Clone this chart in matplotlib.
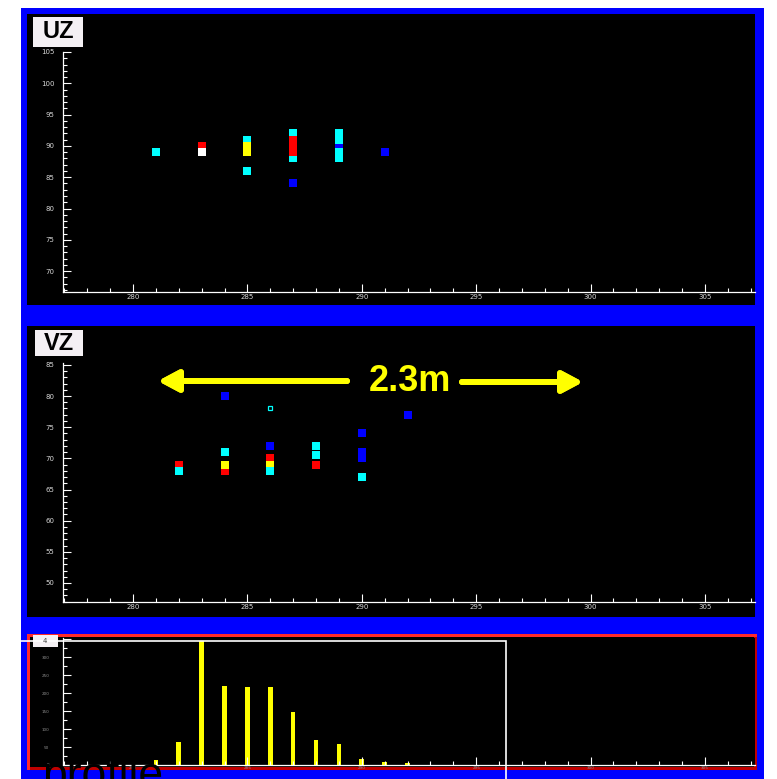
import matplotlib
matplotlib.use('Agg')
import matplotlib.pyplot as plt
from matplotlib.patches import Rectangle
from matplotlib.ticker import MultipleLocator

W, H = 777, 779

# UZ panel points (x, z) per colour
uz_blue_x = [287, 289, 291]
uz_blue_y = [84, 90, 89]
uz_cyan_x = [281, 285, 285, 287, 287, 289, 289, 289, 289]
uz_cyan_y = [89, 91, 86, 92, 88, 92, 91, 89, 88]
uz_red_x = [283, 287, 287, 287]
uz_red_y = [90, 91, 90, 89]
uz_yellow_x = [285, 285]
uz_yellow_y = [90, 89]
uz_white_x = [283]
uz_white_y = [89]

# VZ panel points
vz_blue_x = [284, 286, 290, 290, 290, 292]
vz_blue_y = [80, 72, 74, 71, 70, 77]
vz_red_x = [282, 284, 286, 288]
vz_red_y = [69, 68, 70, 69]
vz_yellow_x = [284, 286]
vz_yellow_y = [69, 69]
vz_cyan_x = [282, 284, 286, 288, 288, 290]
vz_cyan_y = [68, 71, 68, 72, 70.6, 67]
vz_open_x = [286]
vz_open_y = [78]

# profile histogram
hist_x = [281, 282, 283, 284, 285, 286, 287, 288, 289, 290, 291, 292]
hist_counts = [14, 64, 345, 219, 217, 217, 147, 69, 58, 17, 8, 6]

fig = plt.figure(figsize=(W / 100, H / 100), dpi=100, facecolor='white')


def box(x0, y0, x1, y1):
    return [x0 / W, 1 - y1 / H, (x1 - x0) / W, (y1 - y0) / H]


def rect(x0, y0, x1, y1, **kw):
    l, b, w, h = box(x0, y0, x1, y1)
    fig.add_artist(Rectangle((l, b), w, h, transform=fig.transFigure, **kw))


def px(x, y):
    return (x, H - y)


def style(ax, xlim, ylim, ystep, yminor, lsize=5, lcolor='#d8d8d8'):
    ax.set_facecolor('black')
    ax.set_xlim(*xlim)
    ax.set_ylim(*ylim)
    for s in ['top', 'right']:
        ax.spines[s].set_visible(False)
    for s in ['left', 'bottom']:
        ax.spines[s].set_color('white')
        ax.spines[s].set_linewidth(0.9)
    ax.xaxis.set_major_locator(MultipleLocator(5))
    ax.xaxis.set_minor_locator(MultipleLocator(1))
    ax.yaxis.set_major_locator(MultipleLocator(ystep))
    ax.yaxis.set_minor_locator(MultipleLocator(yminor))
    ax.tick_params(which='both', direction='in', colors='white',
                   labelcolor=lcolor, labelsize=lsize, width=0.8)
    ax.tick_params(which='major', length=6)
    ax.tick_params(which='minor', length=3)
    ax.tick_params(axis='x', pad=1.5)
    ax.tick_params(axis='y', pad=6)


# slide background
rect(21, 8, 764, 800, facecolor='#0000ff', edgecolor='none', zorder=-10)
rect(27, 14, 755, 305, facecolor='black', edgecolor='none', zorder=-9)
rect(27, 326, 755, 617, facecolor='black', edgecolor='none', zorder=-9)
rect(27, 634, 757, 770, facecolor='#ff2a2a', edgecolor='none', zorder=-9)
rect(30, 637, 757, 770, facecolor='#c00000', edgecolor='none', zorder=-8)
rect(30, 637, 754, 767, facecolor='black', edgecolor='none', zorder=-7)

xl = (276.94, 307.19)
ms = 5.6

# UZ
ax1 = fig.add_axes(box(63, 52, 755, 292))
style(ax1, xl, (66.67, 105.0), 5, 1)
ax1.plot(uz_blue_x, uz_blue_y, 's', color='#0000ff', ms=ms, mew=0)
ax1.plot(uz_cyan_x, uz_cyan_y, 's', color='#00ffff', ms=ms, mew=0)
ax1.plot(uz_red_x, uz_red_y, 's', color='#ff0000', ms=ms, mew=0)
ax1.plot(uz_yellow_x, uz_yellow_y, 's', color='#ffff00', ms=ms, mew=0)
ax1.plot(uz_white_x, uz_white_y, 's', color='white', ms=ms, mew=0)

# VZ
ax2 = fig.add_axes(box(63, 363, 755, 602))
style(ax2, xl, (46.95, 85.3), 5, 1)
ax2.plot(vz_blue_x, vz_blue_y, 's', color='#0000ff', ms=ms, mew=0)
ax2.plot(vz_red_x, vz_red_y, 's', color='#ff0000', ms=ms, mew=0)
ax2.plot(vz_yellow_x, vz_yellow_y, 's', color='#ffff00', ms=ms, mew=0)
ax2.plot(vz_cyan_x, vz_cyan_y, 's', color='#00ffff', ms=ms, mew=0)
ax2.plot(vz_open_x, vz_open_y, 's', mfc='none', mec='#00ffff', ms=3, mew=0.9)

# profile histogram
ax3 = fig.add_axes(box(63, 638, 755, 765))
style(ax3, xl, (0, 353), 50, 25, lsize=3, lcolor='#909090')
ax3.tick_params(axis='y', pad=10)
ax3.tick_params(axis='x', pad=0.5)
ax3.bar(hist_x, hist_counts, width=0.2, color='#ffff00')

# panel titles
rect(33, 17, 83, 47, facecolor='#f4f0f4', edgecolor='none', zorder=5)
fig.text(58 / W, 1 - 32 / H, 'UZ', fontsize=17, fontweight='bold',
         family='Liberation Sans', ha='center', va='center', zorder=6)
rect(35, 330, 83, 356, facecolor='#f4f0f4', edgecolor='none', zorder=5)
fig.text(59 / W, 1 - 343 / H, 'VZ', fontsize=17, fontweight='bold',
         family='Liberation Sans', ha='center', va='center', zorder=6)
rect(33, 635, 58, 647, facecolor='#f4f0f4', edgecolor='none', zorder=5)
fig.text(45 / W, 1 - 641 / H, '4', fontsize=5, color='#404040',
         ha='center', va='center', zorder=6)

# 2.3m annotation
arrow = dict(arrowstyle='-|>,head_length=0.6,head_width=0.32', color='#ffff00',
             lw=4.3, mutation_scale=20, shrinkA=0, shrinkB=0)
fig.add_artist(plt.annotate('', xy=px(158, 381), xytext=px(347, 381),
                            xycoords='figure pixels', textcoords='figure pixels',
                            arrowprops=arrow, zorder=8))
fig.add_artist(plt.annotate('', xy=px(583, 382), xytext=px(462, 382),
                            xycoords='figure pixels', textcoords='figure pixels',
                            arrowprops=arrow, zorder=8))
fig.text(369 / W, 1 - 391 / H, '2.3m', fontsize=26, fontweight='bold',
         family='Liberation Sans', color='#ffff00', ha='left', va='baseline', zorder=8)

# overlay from the slide
rect(20, 641, 506, 900, facecolor='none', edgecolor='white', lw=1.2, zorder=6)
fig.text(42 / W, 1 - 788 / H, 'profile', fontsize=32, family='Liberation Sans',
         color='black', ha='left', va='baseline', zorder=7)

fig.savefig('out.png', dpi=100, facecolor='white')
